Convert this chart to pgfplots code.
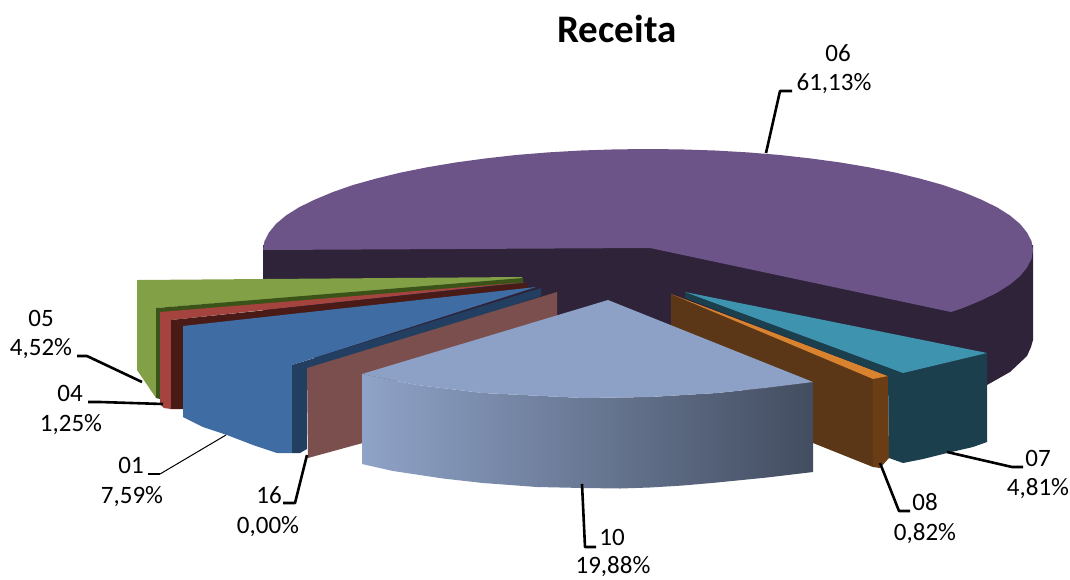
\documentclass[border=0pt]{standalone}
\usepackage{fontspec}
\setmainfont{Carlito}
\usepackage{pgfplots}
\pgfplotsset{compat=1.18}

\definecolor{purpletop}{HTML}{6D5488}
\definecolor{purpleside}{HTML}{2E2339}
\definecolor{greentop}{HTML}{82A046}
\definecolor{greenside}{HTML}{3B5218}
\definecolor{redtop}{HTML}{A5443F}
\definecolor{redside}{HTML}{4A1A16}
\definecolor{bluetop}{HTML}{3F6CA3}
\definecolor{blueside}{HTML}{223F62}
\definecolor{rose}{HTML}{7B4F4D}
\definecolor{skytop}{HTML}{8DA0C6}
\definecolor{skyleft}{HTML}{8FA3C8}
\definecolor{skymid}{HTML}{68799A}
\definecolor{skyright}{HTML}{434D60}
\definecolor{brownside}{HTML}{5C3717}
\definecolor{brownedge}{HTML}{6A3D14}
\definecolor{orangetop}{HTML}{D9832F}
\definecolor{tealtop}{HTML}{3E94AE}
\definecolor{tealside}{HTML}{1B3F4C}

\newcommand{\lab}[3]{\node[anchor=base,inner sep=0pt,font=\fontsize{25}{28}\selectfont] at (axis cs:#1,#2) {#3};}

\begin{document}
\begin{tikzpicture}
\begin{axis}[
    width=1070pt, height=579pt, scale only axis,
    xmin=0, xmax=1070, ymin=0, ymax=579,
    y dir=reverse,
    axis lines=none,
    clip=false,
    no markers,
    every axis plot/.append style={draw=none, line join=round},
]
% 06
\addplot[fill=purpleside] coordinates {
    (263,245) (1033,245) (1033,340) (1031,347) (1027,356) (1010,372) (987,385)
    (900,390) (650,345) (330,365) (263,335) };
\addplot[fill=purpletop] coordinates {
    (650,248) (951,312) (963,308) (981,300.5) (997,292.7) (1010,284.5) (1020,276.1)
    (1027,267.6) (1031.5,258.8) (1033,250) (1031.5,241.2) (1027,232.5) (1020,223.9)
    (1010,215.5) (997,207.3) (981,199.5) (963,192) (943,185) (920,178.6) (895.5,172.6)
    (869,167.3) (840.5,162.5) (811,158.5) (780,155) (748,152.4) (715,150.5) (681.5,149.4)
    (648,149) (614.5,149.4) (581,150.5) (548,152.4) (516,155) (485,158.5) (455.5,162.5)
    (427,167.3) (400.5,172.6) (376,178.6) (353,185) (333,192) (315,199.5) (299,207.3)
    (286,215.5) (276,223.9) (269,232.5) (264.5,241.2) (263,250) };
% 05
\addplot[fill=greentop] coordinates {
    (137,280) (522,277) (523,280) (156,308) (156,398) (137,370) };
\addplot[fill=greenside] coordinates {
    (156,308) (523,278) (523,283) (160,313) (160,399) (156,398) };
% 04
\addplot[fill=redtop] coordinates {
    (160,312) (526,282) (171,320) (171,409) (164,408) (160,404) };
\addplot[fill=redside] coordinates {
    (171,320) (527,283) (527,288) (183,327) (183,409) (171,409) };
% 01
\addplot[fill=bluetop] coordinates {
    (183,326) (536,287) (292,365) (292,453) (277,453) (253,445) (227,435) (203,427) (183,417) };
\addplot[fill=blueside] coordinates {
    (292,365) (541,288) (541,296) (307,373) (307,449) (300,453) (292,453) };
% 16
\addplot[fill=rose] coordinates {
    (307,368) (557,292) (557,330) (370,390) (370,441) (308,458) };
% 08
\addplot[fill=brownside] coordinates {
    (671,294) (873,379) (873,467) (813,443) (800,435) (671,335) };
\addplot[fill=brownedge] coordinates {
    (873,379) (888,376) (889,458) (880,468) (873,467) };
\addplot[fill=orangetop] coordinates {
    (671,294) (888,376) (873,379) };
% 07
\addplot[fill=tealside] coordinates {
    (685,292) (903,373) (987,353) (987,442) (973,447) (947,453) (923,459) (903,463)
    (889,458) (888,376) (685,298) };
\addplot[fill=tealtop] coordinates {
    (685,292) (987,353) (903,373) };
% 10
\addplot[left color=skyleft, middle color=skymid, right color=skyright] coordinates {
    (362,374) (417,385) (483,393) (583,398) (650,397) (717,393) (765,388) (813,382) (813,472)
    (767,477.5) (717,482.5) (683,485.5) (650,487.5) (620,488.5) (583,488) (537,487) (483,483)
    (443,478.5) (393,471) (362,464) };
\addplot[fill=skytop] coordinates {
    (608,300) (813,382) (765,388) (717,393) (650,397) (583,398) (483,393) (417,385) (362,374) };
% leader lines
\addplot[draw=black, line width=2.6pt] coordinates {(766,153) (780,91) (792,91)};
\addplot[draw=black, line width=2.6pt] coordinates {(947,452) (1012,467) (1023,467)};
\addplot[draw=black, line width=2.6pt] coordinates {(880,463) (899,511) (910,511)};
\addplot[draw=black, line width=2.6pt] coordinates {(582,484) (585,547) (596,547)};
\addplot[draw=black, line width=2.6pt] coordinates {(307,455) (295,503) (283,503)};
\addplot[draw=black, line width=1pt] coordinates {(226,435) (160,474)};
\addplot[draw=black, line width=2.6pt] coordinates {(160,474) (148,474)};
\addplot[draw=black, line width=2.6pt] coordinates {(163,404) (100,402) (88,402)};
\addplot[draw=black, line width=2.6pt] coordinates {(142,382) (87,356) (77,356)};
% texts
\node[anchor=base,inner sep=0pt,font=\fontsize{39}{42}\selectfont\bfseries] at (axis cs:617,42) {Receita};
\lab{838}{61}{06}
\lab{834}{90}{61,13\%}
\lab{41}{326}{05}
\lab{41}{355}{4,52\%}
\lab{70}{401}{04}
\lab{71}{431}{1,25\%}
\lab{131}{473}{01}
\lab{132}{503}{7,59\%}
\lab{269}{503}{16}
\lab{268}{533}{0,00\%}
\lab{612}{545}{10}
\lab{613}{573}{19,88\%}
\lab{925}{510}{08}
\lab{925}{540}{0,82\%}
\lab{1038}{466}{07}
\lab{1038}{495}{4,81\%}
\end{axis}
\pgfresetboundingbox
\path[use as bounding box] (0,0) rectangle (1070pt,579pt);
\end{tikzpicture}
\end{document}
